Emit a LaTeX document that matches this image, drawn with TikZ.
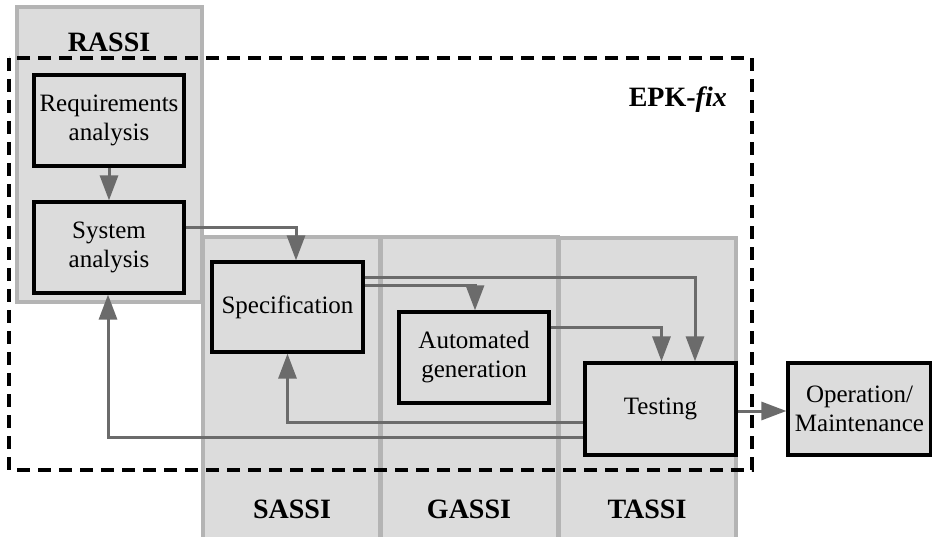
\documentclass[tikz,border=0pt]{standalone}
\usepackage{fontspec}
\setmainfont{Liberation Serif}
\usetikzlibrary{arrows.meta,calc}
\definecolor{panelfill}{HTML}{DCDCDC}
\definecolor{panelline}{HTML}{B4B4B4}
\definecolor{arrgray}{HTML}{6B6B6B}
\tikzset{
  panel/.style={fill=panelfill,draw=panelline,line width=3.2pt},
  procbox/.style={draw=black,fill=panelfill,line width=3.2pt,inner sep=0pt,align=center,
    font=\fontsize{25}{29}\selectfont},
  arr/.style={draw=arrgray,line width=3pt,-{Triangle[length=25pt,width=18pt]}},
  lbl/.style={font=\fontsize{28}{32}\selectfont\bfseries,inner sep=0pt},
  epkbox/.style={draw=black,line width=3.2pt,dash pattern=on 13pt off 8pt}
}
\begin{document}
\begin{tikzpicture}[x=1pt,y=-1pt]
\useasboundingbox (0,0) rectangle (932,537);
% panels
\path[panel] (17,7) rectangle (202,302);
\fill[panelfill] (203,237) rectangle (380,537);
\fill[panelfill] (380,237) rectangle (558,537);
\fill[panelfill] (558,237) rectangle (736,537);
\draw[panelline,line width=3.2pt] (203,540) -- (203,237) -- (380,237) -- (380,540);
\draw[panelline,line width=3.2pt] (381,540) -- (381,237) -- (558,237) -- (558,540);
\draw[panelline,line width=3.2pt] (559,540) -- (559,238) -- (736,238) -- (736,540);
% labels
\node[lbl] (rassi) at (109,42) {RASSI};
\node[lbl] (sassi) at (292,509) {SASSI};
\node[lbl] (gassi) at (469,509) {GASSI};
\node[lbl] (tassi) at (647,509) {TASSI};
\node[lbl,anchor=east] (epk) at (727,100) {EPK-\textit{fix}};
% dashed frame
\draw[epkbox] (9,58) rectangle (752,470);
% boxes
\node[procbox,minimum width=150pt,minimum height=91pt] (req) at (109,120.5) {Requirements\\analysis};
\node[procbox,minimum width=150pt,minimum height=91pt] (sys) at (109,247.5) {System\\analysis};
\node[procbox,minimum width=151pt,minimum height=90pt] (spec) at (287.5,307) {Specification};
\node[procbox,minimum width=150pt,minimum height=91pt] (auto) at (474,357.5) {Automated\\generation};
\node[procbox,minimum width=151pt,minimum height=92pt] (test) at (660.5,409) {Testing};
\node[procbox,minimum width=143pt,minimum height=92pt] (op) at (859.5,409) {Operation/\\Maintenance};
% connectors
\draw[arr] (req) -- (sys);
\draw[arr] ([yshift=19.5pt]sys.east) -| ([xshift=8.5pt]spec.north);
\draw[arr] ([yshift=29pt]spec.east) -| ([xshift=34.5pt]test.north);
\draw[arr] ([yshift=21pt]spec.east) -| ([xshift=1pt]auto.north);
\draw[arr] ([yshift=29.5pt]auto.east) -| ([xshift=1pt]test.north);
\draw[arr] ([yshift=-13pt]test.west) -| (spec.south);
\draw[arr] ([yshift=-28pt]test.west) -| ([xshift=-1pt]sys.south);
\draw[arr] ([yshift=-2pt]test.east) -- ([yshift=-2pt]op.west);
\end{tikzpicture}
\end{document}
